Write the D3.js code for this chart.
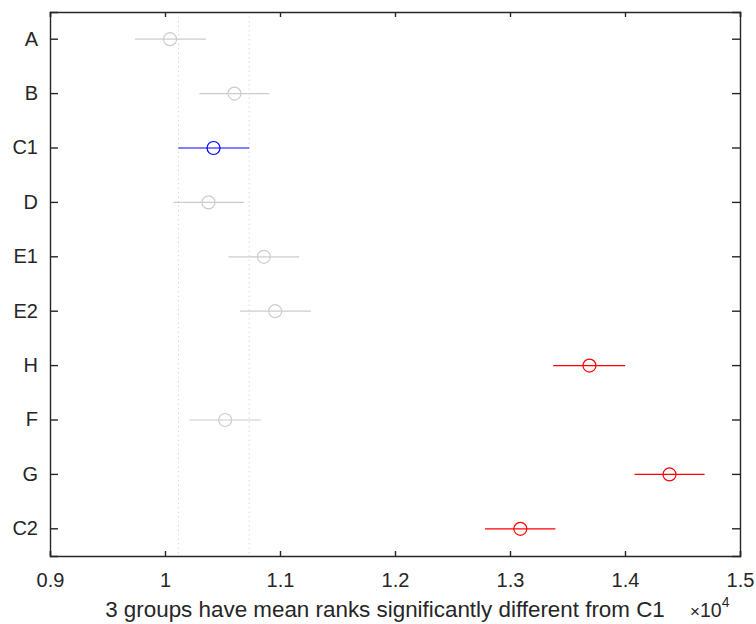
<!DOCTYPE html>
<html>
<head>
<meta charset="utf-8">
<script src="https://cdn.jsdelivr.net/npm/d3@7"></script>
<style>
  body { margin: 0; background: #fff; }
  svg { display: block; }
</style>
</head>
<body>
<div id="graf"></div>
<script>
// multcompare style plot (mean ranks with comparison intervals)

groups = ['A', 'B', 'C1', 'D', 'E1', 'E2', 'H', 'F', 'G', 'C2']
means  = [1.0044, 1.0604, 1.0422, 1.0378, 1.0860, 1.0958, 1.3691, 1.0523, 1.4387, 1.3090]
lower  = [0.9740, 1.0299, 1.0117, 1.0073, 1.0552, 1.0654, 1.3375, 1.0210, 1.4083, 1.2783]
upper  = [1.0355, 1.0908, 1.0732, 1.0688, 1.1167, 1.1269, 1.4001, 1.0834, 1.4692, 1.3395]
// 'ref' = group compared, 'sig' = significantly different, 'ns' = not
// (no se llama "status" porque window.status es una propiedad del navegador)
estados = ['ns', 'ns', 'ref', 'ns', 'ns', 'ns', 'sig', 'ns', 'sig', 'sig']
xticks = [0.9, 1.0, 1.1, 1.2, 1.3, 1.4, 1.5]
xlabel = '3 groups have mean ranks significantly different from C1'

ancho_total = 756
alto_total  = 624
margins = { top: 12, left: 50, right: 16, bottom: 68 }
ancho = ancho_total - margins.left - margins.right
alto  = alto_total - margins.top - margins.bottom

colores = { ref: '#0000ff', sig: '#ff0000', ns: '#cccccc' }
ejes = '#262626'
fuente = 'Liberation Sans, Arial, Helvetica, sans-serif'

datos = groups.map((g, i) => ({
  group: g, mean: means[i], lo: lower[i], hi: upper[i], st: estados[i]
}))
ref = datos.find(d => d.st == 'ref')

svg = d3.select('#graf').append('svg')
  .attr('width', ancho_total)
  .attr('height', alto_total)

g = svg.append('g')
  .attr('transform', `translate(${ margins.left }, ${ margins.top })`)

// Escaladores
x = d3.scaleLinear().domain([0.9, 1.5]).range([0, ancho])
y = d3.scaleBand().domain(groups).range([0, alto])
yc = d => y(d) + y.bandwidth() / 2

// lineas punteadas del intervalo de referencia
g.selectAll('.ref-line')
  .data([ref.lo, ref.hi])
  .enter().append('line')
    .attr('x1', d => x(d)).attr('x2', d => x(d))
    .attr('y1', 0).attr('y2', alto)
    .attr('stroke', '#d9d9d9')
    .attr('stroke-width', 1)
    .attr('stroke-dasharray', '1.5,3')

// intervalos
g.selectAll('.ci')
  .data(datos)
  .enter().append('line')
    .attr('x1', d => x(d.lo)).attr('x2', d => x(d.hi))
    .attr('y1', d => yc(d.group)).attr('y2', d => yc(d.group))
    .attr('stroke', d => colores[d.st])
    .attr('stroke-width', 1.2)

g.selectAll('.mean')
  .data(datos)
  .enter().append('circle')
    .attr('cx', d => x(d.mean))
    .attr('cy', d => yc(d.group))
    .attr('r', 6.5)
    .attr('fill', 'none')
    .attr('stroke', d => colores[d.st])
    .attr('stroke-width', 1.2)

// Ejes
ejeX = g.append('g')
  .attr('transform', `translate(0, ${ alto })`)
  .call(d3.axisBottom(x).tickValues(xticks).tickSize(-5).tickPadding(17)
    .tickFormat(d => d3.format('~g')(d)))
ejeXtop = g.append('g')
  .call(d3.axisTop(x).tickValues(xticks).tickSize(-5).tickFormat(''))
ejeY = g.append('g')
  .call(d3.axisLeft(y).tickSize(-8).tickPadding(12))
ejeYder = g.append('g')
  .attr('transform', `translate(${ ancho }, 0)`)
  .call(d3.axisRight(y).tickSize(-8).tickFormat(''))

for (e of [ejeX, ejeXtop, ejeY, ejeYder]) {
  e.select('.domain').attr('stroke', ejes).attr('stroke-width', 1.4)
  e.selectAll('.tick line').attr('stroke', ejes).attr('stroke-width', 1.4)
  e.selectAll('.tick text')
    .attr('fill', ejes)
    .attr('font-family', fuente)
    .attr('font-size', '20px')
}
ejeX.selectAll('.tick text').attr('dy', '0.71em')

// titulo del eje x
g.append('text')
  .attr('x', 385 - margins.left)
  .attr('y', alto + 61)
  .attr('text-anchor', 'middle')
  .attr('font-family', fuente)
  .attr('font-size', '22.4px')
  .attr('fill', ejes)
  .text(xlabel)

// multiplicador x10^4
mult = g.append('text')
  .attr('x', ancho - 50)
  .attr('y', alto + 61)
  .attr('font-family', fuente)
  .attr('font-size', '19.5px')
  .attr('fill', ejes)
mult.append('tspan').text('\u00d7').attr('font-size', '17px')
mult.append('tspan').text('10')
mult.append('tspan').text('4').attr('font-size', '14px').attr('dy', '-10')
</script>
</body>
</html>
